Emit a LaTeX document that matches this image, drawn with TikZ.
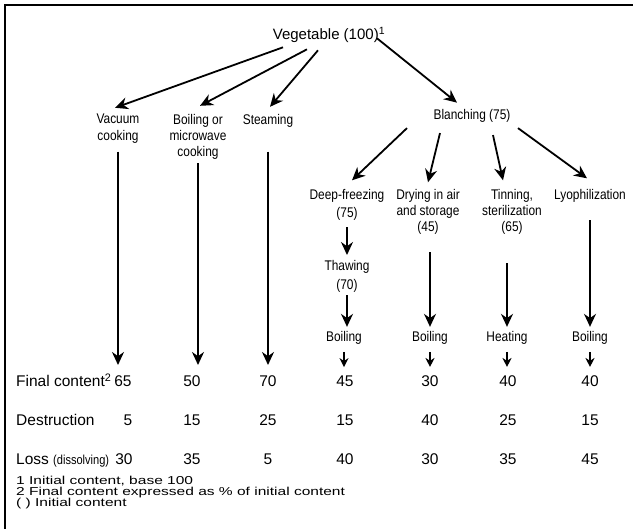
\documentclass[tikz,border=0pt]{standalone}
\usepackage{fontspec}
\setmainfont{Liberation Sans}
\newfontfamily\narrowfont{Liberation Sans}[FakeStretch=0.85]
\newfontfamily\widefont{Liberation Sans}[FakeStretch=1.35]
\usetikzlibrary{arrows.meta}

\begin{document}
\begin{tikzpicture}[
        x=1pt,
        y=-1pt,
        every node/.style={inner sep=1pt},
        lab/.style={font=\narrowfont\fontsize{14}{16}\selectfont, align=center, anchor=north},
        num/.style={font=\fontsize{15.5}{18}\selectfont, anchor=base},
        note/.style={font=\widefont\fontsize{11.5}{12}\selectfont, anchor=base west, inner sep=0pt},
        arr/.style={-{Stealth[length=13pt,width=12pt]}, line width=1.8pt},
        sarr/.style={-{Stealth[length=9pt,width=9pt]}, line width=1.8pt}
    ]
    \useasboundingbox (0,0) rectangle (633,529);
    \draw[line width=2pt] (4.5,529) -- (4.5,5) -- (633,5);

    % tree
    \node[font=\fontsize{15}{18}\selectfont, anchor=base] (veg) at (329,40) {Vegetable (100)\textsuperscript{1}};
    \node[lab] (vac) at (118,112.8) {Vacuum\\[1pt]cooking};
    \node[lab] (boil) at (198,112.8) {Boiling or\\microwave\\cooking};
    \node[lab] (stm) at (268,112.8) {Steaming};
    \node[lab, anchor=base] (bla) at (472,120) {Blanching (75)};

    \node[lab] (dfz) at (347,188.3) {Deep-freezing\\[1.5pt](75)};
    \node[lab] (dry) at (428,188.3) {Drying in air\\and storage\\(45)};
    \node[lab] (tin) at (512,188.3) {Tinning,\\sterilization\\(65)};
    \node[lab] (lyo) at (590,188.3) {Lyophilization};
    \node[lab] (thaw) at (347,259.5) {Thawing\\[2.5pt](70)};

    \node[lab, anchor=base] (b1) at (344,341.7) {Boiling};
    \node[lab, anchor=base] (b2) at (430,341.7) {Boiling};
    \node[lab, anchor=base] (heat) at (507,341.7) {Heating};
    \node[lab, anchor=base] (b4) at (590,341.7) {Boiling};

    % table
    \node[num, anchor=base west] (fclab) at (15,387) {Final content\textsuperscript{2}};
    \node[num, anchor=base west] (dslab) at (15,425.7) {Destruction};
    \node[num, anchor=base west] (lslab) at (15,464.5) {Loss {\narrowfont\fontsize{13}{13}\selectfont(dissolving)}};

    \node[num] (fc1) at (123,387) {65};
    \node[num] (fc2) at (192,387) {50};
    \node[num] (fc3) at (268,387) {70};
    \node[num] (fc4) at (345,387) {45};
    \node[num] (fc5) at (430,387) {30};
    \node[num] (fc6) at (508,387) {40};
    \node[num] (fc7) at (590,387) {40};

    \node[num] (ds1) at (128,425.7) {5};
    \node[num] (ds2) at (192,425.7) {15};
    \node[num] (ds3) at (268,425.7) {25};
    \node[num] (ds4) at (345,425.7) {15};
    \node[num] (ds5) at (430,425.7) {40};
    \node[num] (ds6) at (508,425.7) {25};
    \node[num] (ds7) at (590,425.7) {15};

    \node[num] (ls1) at (124,464.5) {30};
    \node[num] (ls2) at (192,464.5) {35};
    \node[num] (ls3) at (268,464.5) {5};
    \node[num] (ls4) at (345,464.5) {40};
    \node[num] (ls5) at (430,464.5) {30};
    \node[num] (ls6) at (508,464.5) {35};
    \node[num] (ls7) at (590,464.5) {45};

    \node[note] (fn1) at (16,484.5) {1 Initial content, base 100};
    \node[note] (fn2) at (16,495.5) {2 Final content expressed as \% of initial content};
    \node[note] (fn3) at (16,506.5) {( ) Initial content};

    % arrows
    \draw[arr] ([shift={(-46,3)}]veg.south) -- ([shift={(-3,-5)}]vac.north);
    \draw[arr] ([shift={(-22,5)}]veg.south) -- ([shift={(2,-7)}]boil.north);
    \draw[arr] ([shift={(-11,6)}]veg.south) -- ([shift={(2,-6)}]stm.north);
    \draw[arr] ([shift={(48,-6)}]veg.south) -- ([shift={(-15,-6)}]bla.north);

    \draw[arr] ([shift={(-65,4)}]bla.south) -- ([shift={(5,-8)}]dfz.north);
    \draw[arr] ([shift={(-32,9)}]bla.south) -- ([shift={(0,-6)}]dry.north);
    \draw[arr] ([shift={(21,11)}]bla.south) -- ([shift={(-9,-8)}]tin.north);
    \draw[arr] ([shift={(46,4)}]bla.south) -- ([shift={(-3,-10)}]lyo.north);

    \draw[arr, shorten <=7pt, shorten >=10pt] (vac.south) -- (vac.south |- fc1.north);
    \draw[arr, shorten <=3pt, shorten >=10pt] (boil.south) -- (boil.south |- fc2.north);
    \draw[arr, shorten <=7pt, shorten >=10pt] (stm |- vac.south) -- (stm |- fc3.north);

    \draw[arr, shorten <=6pt, shorten >=4.5pt] (dfz) -- (thaw);
    \draw[arr, shorten <=2pt, shorten >=3.5pt] (thaw) -- (thaw |- b1.north);
    \draw[arr, shorten <=16.5pt, shorten >=3.5pt] (b2 |- dry.south) -- (b2);
    \draw[arr, shorten <=27.5pt, shorten >=3.5pt] (heat |- tin.south) -- (heat);
    \draw[arr, shorten <=16.5pt, shorten >=3.5pt] (lyo) -- (b4);

    \draw[sarr, shorten <=6pt, shorten >=8pt] (b1) -- (b1 |- fc4.north);
    \draw[sarr, shorten <=6pt, shorten >=8pt] (b2) -- (b2 |- fc5.north);
    \draw[sarr, shorten <=6pt, shorten >=8pt] (heat) -- (heat |- fc6.north);
    \draw[sarr, shorten <=6pt, shorten >=8pt] (b4) -- (b4 |- fc7.north);
\end{tikzpicture}
\end{document}
